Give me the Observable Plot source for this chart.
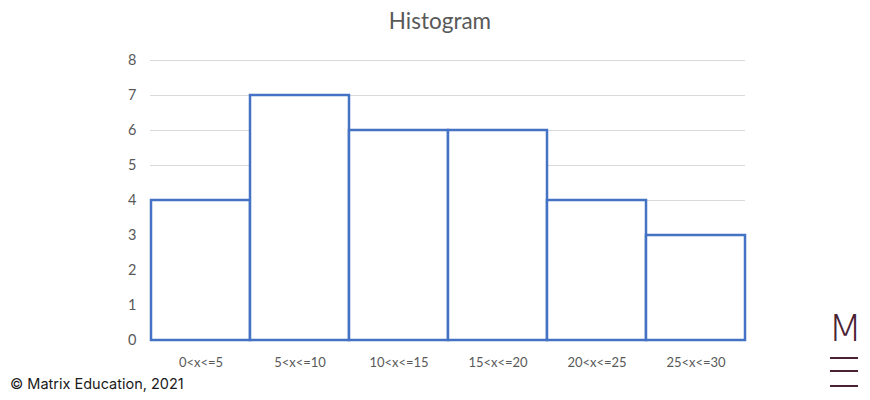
<!DOCTYPE html>
<html>
<head>
<meta charset="utf-8">
<script src="https://cdn.jsdelivr.net/npm/d3@7"></script>
<script src="https://cdn.jsdelivr.net/npm/@observablehq/plot@0.6"></script>
<style>
  body { margin: 0; background: #fff; }
  #wrap { position: relative; width: 870px; height: 400px; overflow: hidden; }
  #title { position: absolute; left: 0; width: 880px; top: 7px; text-align: center;
           font-family: Lato, "Open Sans", sans-serif; font-size: 22.5px; color: #595959; }
  #credit { position: absolute; left: 10px; top: 375px; font-family: Inter, Roboto, sans-serif;
            font-size: 14.5px; color: #1a1a1a; }
  #logo { position: absolute; left: 828px; top: 308px; width: 34px; }
  #logo .m { font-family: "DejaVu Sans", sans-serif; font-weight: 200; font-size: 38px; color: #4a2233;
             line-height: 40px; transform: scaleX(1.05); transform-origin: left; }
  #logo .ln { position: absolute; left: 2px; width: 28px; height: 2px; background: #4a2233; }
</style>
</head>
<body>
<div id="wrap">
  <div id="chart"></div>
  <div id="title">Histogram</div>
  <div id="credit">© Matrix Education, 2021</div>
  <div id="logo"><div class="m">M</div><div class="ln" style="top:49px"></div><div class="ln" style="top:62px"></div><div class="ln" style="top:77px"></div></div>
</div>
<script>
const categories = ["0<x<=5", "5<x<=10", "10<x<=15", "15<x<=20", "20<x<=25", "25<x<=30"];
const counts = [4, 7, 6, 6, 4, 3];
const yTicks = [0, 1, 2, 3, 4, 5, 6, 7, 8];

const data = categories.map((c, i) => ({ bin: c, count: counts[i] }));

const chart = Plot.plot({
  width: 870,
  height: 400,
  marginLeft: 150,
  marginRight: 125,
  marginTop: 60,
  marginBottom: 60,
  style: { fontFamily: "Lato, 'Open Sans', sans-serif", background: "transparent" },
  x: { domain: categories, padding: 0, label: null },
  y: { domain: [0, 8], label: null },
  marks: [
    Plot.ruleY(yTicks, { stroke: "#d9d9d9", strokeWidth: 1.2 }),
    Plot.barY(data, { x: "bin", y: "count", fill: "white", stroke: "#4472c4", strokeWidth: 2.5, inset: 0 }),
    Plot.axisY(yTicks, { tickSize: 0, tickPadding: 14, fontSize: 14.5, fill: "#595959", label: null }),
    Plot.axisX({ tickSize: 0, tickPadding: 17, fontSize: 13, fill: "#595959", label: null })
  ]
});
document.getElementById("chart").appendChild(chart);
</script>
</body>
</html>
